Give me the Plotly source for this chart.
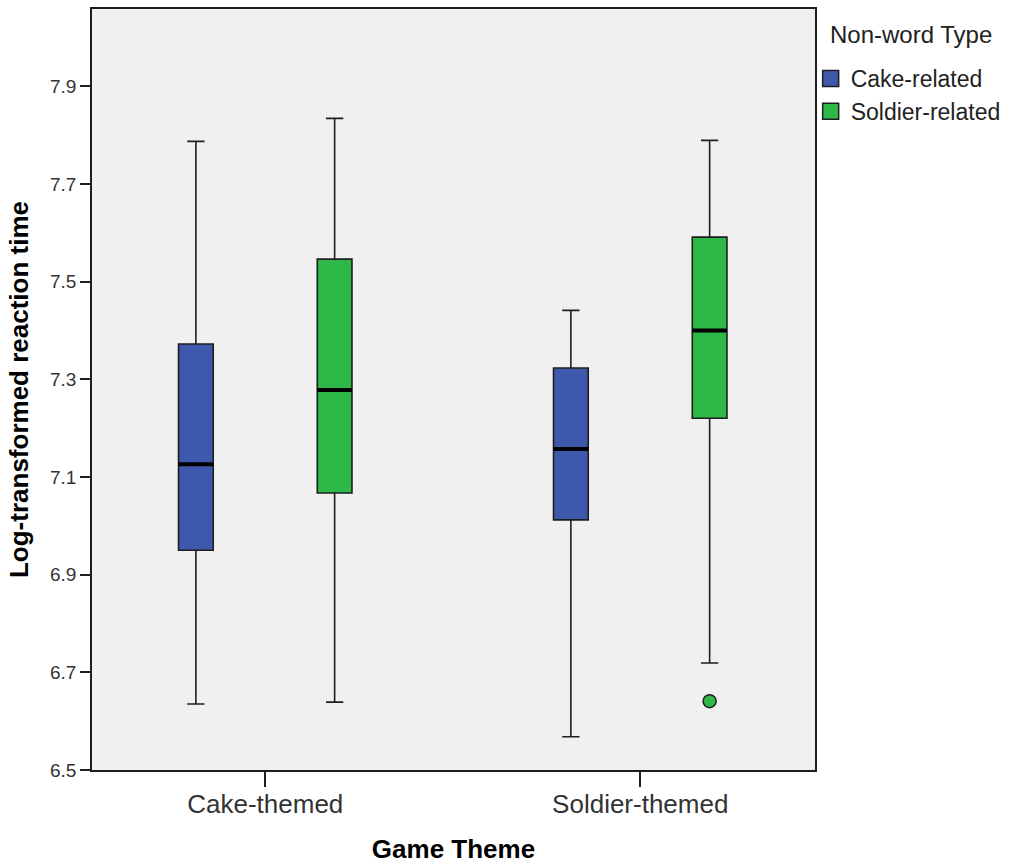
import plotly.graph_objects as go

# ---------------- data ----------------
themes = ["Cake-themed", "Soldier-themed"]
nonword_types = ["Cake-related", "Soldier-related"]

cake_related_lower = [6.635, 6.568]
cake_related_q1 = [6.950, 7.012]
cake_related_median = [7.126, 7.157]
cake_related_q3 = [7.372, 7.323]
cake_related_upper = [7.787, 7.441]

soldier_related_lower = [6.639, 6.719]
soldier_related_q1 = [7.067, 7.220]
soldier_related_median = [7.278, 7.400]
soldier_related_q3 = [7.546, 7.591]
soldier_related_upper = [7.834, 7.789]

outlier_theme = ["Soldier-themed"]
outlier_type = ["Soldier-related"]
outlier_value = [6.641]

y_tick_values = [6.5, 6.7, 6.9, 7.1, 7.3, 7.5, 7.7, 7.9]

# ---------------- styling ----------------
colors = {"Cake-related": "#3E58AC", "Soldier-related": "#2EB848"}
FONT = "Liberation Sans, Arial, sans-serif"
EDGE = "#1e1e1e"
BOXGAP = 0.26
BOXGROUPGAP = 0.75

stats = {
    "Cake-related": dict(lower=cake_related_lower, q1=cake_related_q1, median=cake_related_median,
                         q3=cake_related_q3, upper=cake_related_upper),
    "Soldier-related": dict(lower=soldier_related_lower, q1=soldier_related_q1,
                            median=soldier_related_median, q3=soldier_related_q3,
                            upper=soldier_related_upper),
}

positions = list(range(len(themes)))
n_groups = len(nonword_types)
d_pos = 0.5  # half the spacing between categories
half_width = d_pos * (1 - BOXGAP) * (1 - BOXGROUPGAP) / n_groups


def group_offset(i):
    return 2 * d_pos * (-0.5 + (i + 0.5) / n_groups) * (1 - BOXGAP)


fig = go.Figure()

for i, t in enumerate(nonword_types):
    s = stats[t]
    fig.add_trace(go.Box(
        x=positions, q1=s["q1"], median=s["median"], q3=s["q3"],
        lowerfence=s["lower"], upperfence=s["upper"],
        name=t, offsetgroup=t, legendgroup=t, showlegend=False,
        fillcolor=colors[t], line=dict(color=EDGE, width=1.6),
        whiskerwidth=0.5, boxpoints=False, hoverinfo="skip",
    ))

# thick median lines over each box
for i, t in enumerate(nonword_types):
    xs, ys = [], []
    for p, m in zip(positions, stats[t]["median"]):
        c = p + group_offset(i)
        xs += [c - half_width, c + half_width, None]
        ys += [m, m, None]
    fig.add_trace(go.Scatter(x=xs, y=ys, mode="lines", line=dict(color="black", width=4),
                             showlegend=False, hoverinfo="skip"))

# outliers
for th, ty, v in zip(outlier_theme, outlier_type, outlier_value):
    p = themes.index(th)
    i = nonword_types.index(ty)
    fig.add_trace(go.Scatter(x=[p + group_offset(i)], y=[v], mode="markers",
                             marker=dict(size=13, color=colors[ty], line=dict(color=EDGE, width=1.5)),
                             showlegend=False, hoverinfo="skip"))

# legend entries
for t in nonword_types:
    fig.add_trace(go.Scatter(x=[None], y=[None], mode="markers", name=t, legendgroup=t,
                             marker=dict(symbol="square", size=16, color=colors[t],
                                         line=dict(color=EDGE, width=1.5))))

fig.update_layout(
    width=1020, height=864,
    margin=dict(l=92, r=205, t=9, b=94),
    paper_bgcolor="white", plot_bgcolor="#F0F0F0",
    boxmode="group", boxgap=BOXGAP, boxgroupgap=BOXGROUPGAP,
    font=dict(family=FONT, color="#222222"),
    showlegend=True,
    legend=dict(
        font=dict(size=23, family=FONT, color="#222222"),
        x=0.994, xanchor="left", y=0.937, yanchor="top",
        bgcolor="rgba(0,0,0,0)", itemsizing="trace", tracegroupgap=0,
    ),
    annotations=[dict(
        text="Non-word Type", xref="paper", yref="paper",
        x=1.018, y=0.966, xanchor="left", yanchor="middle", showarrow=False,
        font=dict(size=24, family=FONT, color="#222222"),
    )],
)

fig.update_xaxes(
    range=[-0.462, 1.466], tickmode="array", tickvals=positions, ticktext=themes,
    showline=True, linecolor=EDGE, linewidth=1.5, mirror=True,
    ticks="outside", ticklen=15, tickwidth=2, tickcolor=EDGE,
    tickfont=dict(size=26, family=FONT, color="#333333"), ticklabelstandoff=-5,
    showgrid=False, zeroline=False, automargin=False,
    title=dict(text="Game Theme", standoff=29,
               font=dict(size=26, family=FONT, color="black", weight="bold")),
)

fig.update_yaxes(
    range=[6.5, 8.058], tickmode="array", tickvals=y_tick_values, tickformat=".1f",
    showline=True, linecolor=EDGE, linewidth=1.5, mirror=True,
    ticks="outside", ticklen=10, tickwidth=2, tickcolor=EDGE,
    tickfont=dict(size=19, family=FONT, color="#333333"),
    showgrid=False, zeroline=False, automargin=False,
    title=dict(text="Log-transformed reaction time", standoff=14,
               font=dict(size=26, family=FONT, color="black", weight="bold")),
)

fig.write_html("out.html")
